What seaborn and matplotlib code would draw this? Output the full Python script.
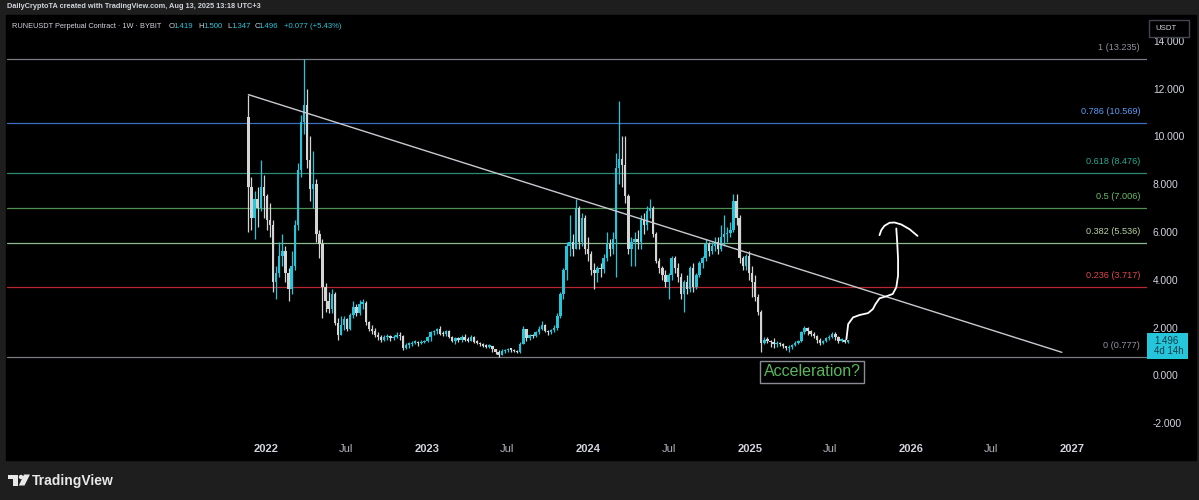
import matplotlib
matplotlib.use("Agg")
import matplotlib.pyplot as plt
from matplotlib.patches import Rectangle, Circle, Polygon
from matplotlib.transforms import IdentityTransform
import numpy as np
import pandas as pd
import seaborn as sns

# weekly candles, first week starts 2021-11-22, open of each week = previous close
first_week = "2021-11-22"
first_open = 10.8
closes = [
    7.9, 6.6, 7.4, 7.0, 7.9, 7.5, 6.5, 6.3, 3.9, 4.3,
    5.0, 5.2, 4.3, 3.6, 4.6, 6.3, 8.6, 10.6, 11.3, 9.0,
    7.8, 8.0, 5.9, 5.5, 3.7, 3.1, 2.8, 3.4, 2.2, 1.7,
    2.1, 2.35, 1.95, 2.55, 2.85, 2.6, 3.0, 3.05, 2.25, 1.95,
    1.85, 1.7, 1.6, 1.5, 1.6, 1.65, 1.55, 1.6, 1.7, 1.65,
    1.15, 1.28, 1.3, 1.38, 1.42, 1.35, 1.4, 1.45, 1.6, 1.8,
    1.85, 1.95, 1.75, 1.72, 1.85, 1.6, 1.45, 1.55, 1.48, 1.62,
    1.5, 1.45, 1.6, 1.42, 1.38, 1.3, 1.25, 1.2, 1.22, 1.1,
    1.0, 0.85, 1.02, 1.05, 1.08, 1.07, 1.02, 0.98, 1.3, 1.95,
    1.55, 1.7, 1.65, 1.8, 1.95, 2.12, 1.85, 1.8, 1.9, 2.0,
    2.5, 3.4, 4.4, 5.4, 5.6, 5.3, 7.0, 5.6, 6.6, 5.3,
    5.1, 4.4, 4.3, 4.5, 4.45, 4.9, 5.5, 5.3, 5.7, 8.7,
    9.05, 8.8, 7.5, 5.3, 5.6, 5.7, 5.6, 6.5, 6.3, 6.9,
    7.0, 5.9, 4.8, 4.5, 4.2, 3.9, 4.2, 4.9, 4.5, 4.1,
    3.4, 3.9, 3.6, 4.5, 3.7, 4.2, 4.7, 4.9, 5.5, 5.2,
    5.4, 5.6, 5.3, 5.8, 5.9, 5.95, 6.1, 7.3, 6.6, 4.9,
    4.6, 5.0, 4.3, 3.9, 3.3, 2.65, 1.35, 1.5, 1.45, 1.4,
    1.3, 1.38, 1.3, 1.22, 1.15, 1.2, 1.28, 1.35, 1.45, 1.8,
    1.98, 1.85, 1.75, 1.65, 1.5, 1.38, 1.45, 1.55, 1.62, 1.72,
    1.6, 1.45, 1.48, 1.419, 1.496,
]
highs = [
    11.75, 8.3, 7.7, 7.9, 9.0, 8.4, 7.6, 7.2, 6.5, 4.6,
    5.6, 5.9, 5.4, 4.5, 5.2, 6.5, 8.9, 10.9, 13.235, 12.0,
    10.0, 9.4, 8.2, 6.1, 5.7, 3.85, 3.5, 3.6, 3.5, 2.4,
    2.5, 2.5, 2.4, 2.6, 3.1, 3.0, 3.15, 3.2, 3.1, 2.3,
    2.1, 2.0, 1.8, 1.7, 1.7, 1.75, 1.7, 1.7, 1.8, 1.8,
    1.7, 1.35, 1.4, 1.45, 1.5, 1.45, 1.48, 1.5, 1.65, 1.85,
    1.9, 2.0, 2.05, 1.85, 1.9, 1.9, 1.65, 1.6, 1.6, 1.7,
    1.72, 1.6, 1.7, 1.65, 1.48, 1.42, 1.35, 1.3, 1.3, 1.25,
    1.12, 1.05, 1.1, 1.12, 1.15, 1.15, 1.1, 1.05, 1.4, 2.06,
    1.95, 1.75, 1.75, 1.85, 2.06, 2.27, 2.15, 1.9, 1.95, 2.1,
    2.6, 3.5, 4.5, 5.6, 6.7, 5.9, 7.4, 7.1, 6.8, 6.7,
    5.8, 5.2, 4.7, 4.6, 4.7, 5.1, 6.0, 5.7, 6.0, 9.3,
    11.5, 10.0, 10.0, 7.6, 5.8, 6.0, 6.1, 6.7, 6.8, 7.1,
    7.4, 7.1, 6.0, 4.9, 4.6, 4.4, 4.3, 5.0, 5.0, 4.7,
    4.3, 4.0, 4.2, 4.6, 4.7, 4.3, 4.8, 5.0, 5.7, 5.6,
    5.6, 5.8, 5.8, 6.3, 6.7, 6.2, 6.4, 7.6, 7.6, 6.7,
    5.0, 5.1, 5.2, 4.6, 4.2, 3.4, 2.75, 1.6, 1.6, 1.5,
    1.55, 1.45, 1.42, 1.35, 1.25, 1.28, 1.32, 1.45, 1.5, 1.85,
    2.06, 2.02, 1.9, 1.8, 1.7, 1.55, 1.5, 1.6, 1.7, 1.82,
    1.8, 1.65, 1.55, 1.52, 1.5,
]
lows = [
    6.0, 6.1, 5.7, 6.2, 6.9, 6.6, 6.1, 5.8, 3.5, 3.2,
    4.1, 4.6, 3.9, 3.1, 3.4, 4.4, 6.1, 8.3, 10.1, 8.7,
    7.3, 7.0, 5.6, 4.9, 2.4, 2.65, 2.6, 2.6, 2.1, 1.5,
    1.7, 1.9, 1.85, 1.9, 2.4, 2.5, 2.55, 2.8, 2.1, 1.85,
    1.75, 1.6, 1.5, 1.4, 1.45, 1.5, 1.45, 1.5, 1.55, 1.5,
    1.05, 1.1, 1.15, 1.25, 1.3, 1.25, 1.3, 1.35, 1.4, 1.45,
    1.7, 1.75, 1.7, 1.65, 1.65, 1.55, 1.4, 1.3, 1.4, 1.4,
    1.45, 1.4, 1.43, 1.38, 1.3, 1.25, 1.18, 1.15, 1.15, 1.0,
    0.9, 0.777, 0.85, 0.95, 1.0, 1.0, 0.98, 0.93, 0.95, 1.3,
    1.45, 1.5, 1.55, 1.6, 1.75, 1.9, 1.8, 1.7, 1.75, 1.8,
    1.9, 2.4, 3.2, 4.0, 5.0, 5.0, 5.3, 5.3, 5.4, 5.1,
    4.8, 4.2, 3.6, 3.9, 4.1, 4.3, 4.8, 5.0, 5.1, 4.1,
    8.0, 7.9, 7.2, 5.1, 4.6, 4.6, 5.3, 5.3, 5.9, 6.1,
    6.6, 5.8, 4.7, 4.3, 4.0, 3.7, 3.2, 4.0, 4.3, 3.9,
    3.2, 2.65, 3.4, 3.5, 3.5, 3.6, 4.1, 4.5, 4.8, 5.0,
    5.1, 5.2, 5.1, 5.2, 5.4, 5.6, 5.8, 6.0, 6.3, 4.7,
    4.4, 4.4, 4.0, 3.3, 3.1, 2.55, 1.0, 1.3, 1.35, 1.2,
    1.15, 1.2, 1.22, 1.15, 1.05, 1.0, 1.12, 1.22, 1.3, 1.4,
    1.75, 1.7, 1.65, 1.55, 1.38, 1.28, 1.3, 1.4, 1.5, 1.55,
    1.5, 1.38, 1.4, 1.36, 1.347,
]

fib_levels = ["1", "0.786", "0.618", "0.5", "0.382", "0.236", "0"]
fib_prices = [13.235, 10.569, 8.476, 7.006, 5.536, 3.717, 0.777]
fib_line_colors = ["#787b86", "#3f6fc2", "#2f8a72", "#4f8f50", "#8cba8e", "#b8262f", "#787b86"]
fib_text_colors = ["#8f929b", "#5b9cf6", "#22ab94", "#6bbd6b", "#b6d3a2", "#e0434f", "#8f929b"]

trend_dates = ["2021-11-22", "2026-12-09"]
trend_prices = [11.75, 0.97]

# hand drawn arrow
arrow_dates = ["2025-08-08", "2025-08-12", "2025-08-23", "2025-09-07", "2025-09-26",
               "2025-10-07", "2025-10-13", "2025-10-22", "2025-11-06", "2025-11-21",
               "2025-11-29", "2025-12-03", "2025-12-03", "2025-12-01", "2025-11-29"]
arrow_prices = [1.52, 2.15, 2.43, 2.53, 2.61, 2.78, 2.99, 3.23, 3.31, 3.41,
                3.69, 4.18, 4.88, 5.59, 6.15]
hook_dates = ["2025-10-22", "2025-10-26", "2025-11-02", "2025-11-14", "2025-11-25",
              "2025-12-10", "2025-12-29", "2026-01-16"]
hook_prices = [5.87, 6.08, 6.26, 6.39, 6.40, 6.32, 6.12, 5.84]

note_date = "2025-05-23"
note_price = 0.15
note_text = "Acceleration?"

time_ticks = ["2022-01-01", "2022-07-01", "2023-01-01", "2023-07-01", "2024-01-01",
              "2024-07-01", "2025-01-01", "2025-07-01", "2026-01-01", "2026-07-01",
              "2027-01-01"]
time_labels = ["2022", "Jul", "2023", "Jul", "2024", "Jul", "2025", "Jul", "2026", "Jul", "2027"]
price_ticks = [-2, 0, 2, 4, 6, 8, 10, 12, 14]

header = "DailyCryptoTA created with TradingView.com, Aug 13, 2025 13:18 UTC+3"
symbol_text = "RUNEUSDT Perpetual Contract · 1W · BYBIT"
ohlc_names = ["O", "H", "L", "C"]
ohlc_values = ["1.419", "1.500", "1.347", "1.496"]
change_text = "+0.077 (+5.43%)"
last_price = "1.496"
countdown = "4d 14h"

W, H = 1199, 500
UP = "#26c6da"
DOWN = "#d4d4d4"
TXT = "#d1d4dc"


def fx(x):
    return x / W


def fy(y):
    return 1 - y / H


sns.set_style("dark", {"axes.facecolor": "black", "figure.facecolor": "#1e1e1e"})
plt.rcParams["font.family"] = ["Liberation Sans", "DejaVu Sans"]

fig = plt.figure(figsize=(W / 100, H / 100), dpi=100)
fig.add_artist(Rectangle((fx(6), fy(460)), (1196 - 6) / W, (460 - 15) / H,
                         transform=fig.transFigure, color="black", zorder=-10))
ax = fig.add_axes([fx(7), fy(437), (1147 - 7) / W, (437 - 15) / H])
ax.set_facecolor("black")

dates = pd.date_range(first_week, periods=len(closes), freq="7D")
c = np.array(closes)
o = np.array([first_open] + closes[:-1])
cols = np.where(c >= o, UP, DOWN)
ax.vlines(dates, lows, highs, colors=cols, linewidth=0.9, zorder=3)
ax.bar(dates, np.maximum(np.abs(c - o), 0.06), bottom=np.minimum(o, c), width=5.4,
       color=cols, linewidth=0, zorder=3)

for lvl, p, lc, tc in zip(fib_levels, fib_prices, fib_line_colors, fib_text_colors):
    ax.axhline(p, color=lc, lw=0.9, zorder=2)
    ax.annotate(f"{lvl} ({p:.3f})", xy=(1, p), xycoords=("axes fraction", "data"),
                xytext=(-5, 8.3), textcoords="offset points", ha="right", va="center",
                fontsize=6.6, color=tc)

sns.lineplot(x=pd.to_datetime(trend_dates), y=trend_prices, ax=ax, color="#c8cad0", lw=1.0, zorder=4)
sns.lineplot(x=pd.to_datetime(arrow_dates), y=arrow_prices, ax=ax, sort=False, estimator=None,
             color="white", lw=1.3, zorder=6, solid_capstyle="round", solid_joinstyle="round")
sns.lineplot(x=pd.to_datetime(hook_dates), y=hook_prices, ax=ax, sort=False, estimator=None,
             color="white", lw=1.3, zorder=6, solid_capstyle="round", solid_joinstyle="round")

ax.text(pd.Timestamp(note_date), note_price, note_text, ha="center", va="center",
        fontsize=11.5, color="#58b65b", zorder=6,
        bbox=dict(boxstyle="square,pad=0.22", fc="black", ec="#8a8d96", lw=1))

x0 = pd.Timestamp("2022-01-01")
ax.set_xlim(x0 - pd.Timedelta(days=586.8), x0 + pd.Timedelta(days=1996))
ax.set_ylim(-2.573, 15.08)

ax.set_xticks(pd.to_datetime(time_ticks))
ax.set_xticklabels(time_labels)
ax.tick_params(axis="x", length=0, pad=5, labelsize=8, labelcolor="#b2b5be")
for t in ax.get_xticklabels():
    if t.get_text().isdigit():
        t.set_fontweight("bold")
        t.set_color(TXT)

ax.yaxis.tick_right()
ax.set_yticks(price_ticks)
ax.set_yticklabels([f"{v:.3f}" for v in price_ticks])
ax.tick_params(axis="y", length=0, pad=4.3, labelsize=7.4, labelcolor=TXT)
ax.set_xlabel("")
ax.set_ylabel("")
ax.grid(False)
for s in ax.spines.values():
    s.set_visible(False)

# header and legend line
fig.text(fx(7), fy(7), header, fontsize=5.3, color=TXT, fontweight="bold", va="center")
fig.text(fx(12), fy(27), symbol_text, fontsize=5.35, color=TXT, va="center")
name_x = [169, 198, 227, 254.5]
value_x = [173.5, 203, 231, 258.5]
for n, v, nx, vx in zip(ohlc_names, ohlc_values, name_x, value_x):
    fig.text(fx(nx), fy(27), n, fontsize=5.6, color=TXT, va="center")
    fig.text(fx(vx), fy(27), v, fontsize=5.6, color=UP, va="center")
fig.text(fx(284), fy(27), change_text, fontsize=5.6, color=UP, va="center")

# currency box on price scale
fig.add_artist(Rectangle((fx(1149), fy(37)), 40 / W, 17 / H, transform=fig.transFigure,
                         fc="black", ec="#434651", lw=1, zorder=5))
fig.text(fx(1155), fy(28.5), "USDT", fontsize=5.6, color=TXT, va="center", zorder=6)

# last price tag
fig.add_artist(Rectangle((fx(1147), fy(359)), 41 / W, 26 / H, transform=fig.transFigure,
                         fc=UP, ec="none", zorder=5))
fig.text(fx(1154), fy(340.5), last_price, fontsize=7, color="#0f3e4b", va="center", zorder=6)
fig.text(fx(1154), fy(351.5), countdown, fontsize=7, color="#0f3e4b", va="center", zorder=6)

# TradingView logo
idt = IdentityTransform()
fig.add_artist(Polygon([(7.5, H - 474.5), (18, H - 474.5), (18, H - 485.5), (13, H - 485.5),
                        (13, H - 479), (7.5, H - 479)], closed=True, transform=idt,
                       fc="#e8e8e8", ec="none"))
fig.add_artist(Circle((21, H - 477), 2.2, transform=idt, fc="#e8e8e8", ec="none"))
fig.add_artist(Polygon([(24, H - 474.5), (30, H - 474.5), (24.5, H - 485.5), (18.8, H - 485.5)],
                       closed=True, transform=idt, fc="#e8e8e8", ec="none"))
fig.text(fx(32), fy(480.5), "TradingView", fontsize=10, fontweight="bold", color="#e8e8e8",
         va="center")

fig.savefig("out.png", dpi=100, facecolor=fig.get_facecolor())
